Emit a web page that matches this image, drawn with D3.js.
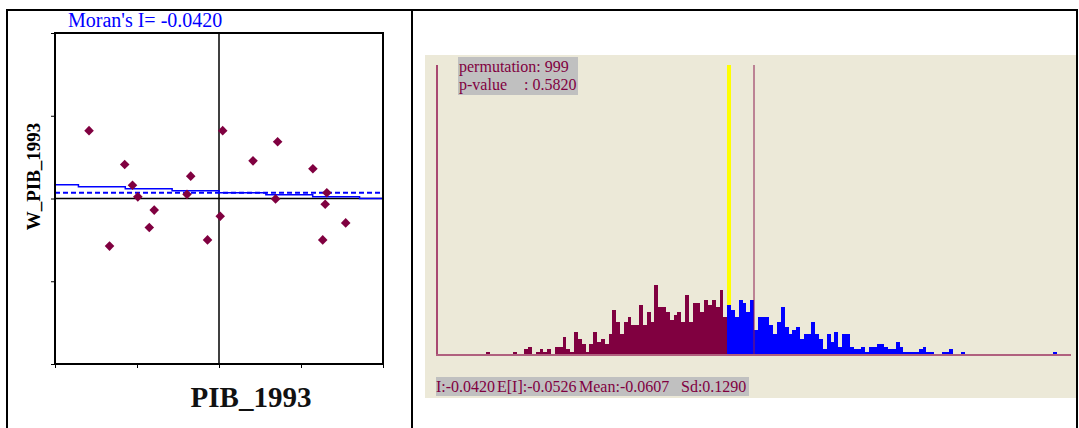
<!DOCTYPE html>
<html>
<head>
<meta charset="utf-8">
<script src="https://cdn.jsdelivr.net/npm/d3@7"></script>
<style>
body { margin: 0; background: #fff; }
svg { display: block; }
</style>
</head>
<body>
<script>
// moran scatter: standardized PIB_1993 vs its spatial lag
const pibValues  = [-3.17, -2.30, -2.11, -1.98, -1.58, -1.70, -2.67, -0.69, -0.78, -0.28,
                     0.09,  0.03,  0.83,  1.43,  1.38,  2.29,  2.63,  2.59,  2.53,  3.09]
const lagValues  = [ 1.64,  0.82,  0.32,  0.04, -0.28, -0.70, -1.15,  0.54,  0.10, -1.00,
                     1.64, -0.43,  0.91,  1.37, -0.01,  0.72,  0.14, -0.14, -1.00, -0.59]
const moranI = -0.0420
const fitIntercept = 0.165
const lagMean = 0.14
const axisTicks = [-4, -2, 0, 2, 4]

// reference distribution, 999 permutations
const binWidth = 0.006041
const firstBinStart = -0.4228
const binCounts = [
  1, 0, 0, 0, 0, 0, 0, 1, 0, 0, 2, 3, 0, 1, 2, 1, 2, 0, 3, 3,
  7, 2, 1, 9, 6, 4, 1, 4, 9, 5, 6, 4, 8, 18, 13, 8, 13, 15, 12, 12,
  20, 12, 17, 13, 28, 19, 19, 17, 14, 16, 17, 13, 24, 13, 21, 21, 17, 22, 20, 22,
  19, 26, 15, 20, 18, 15, 22, 21, 17, 22, 10, 15, 15, 15, 12, 8, 13, 19, 11, 8,
  10, 11, 6, 8, 8, 13, 8, 6, 2, 8, 5, 9, 3, 8, 8, 3, 2, 2, 3, 1,
  3, 3, 4, 4, 3, 2, 2, 5, 3, 1, 1, 1, 1, 2, 3, 1, 1, 0, 0, 1,
  1, 2, 0, 0, 1, 0, 0, 0, 0, 0, 0, 0, 0, 0, 0, 0, 0, 0, 0, 0,
  0, 0, 0, 0, 0, 0, 0, 0, 1
]
const permInfo = ["permutation: 999", "p-value", ": 0.5820"]
const statLabels = ["I:-0.0420", "E[I]:-0.0526", "Mean:-0.0607", "Sd:0.1290"]

const width = 1079, height = 428
const maroon = "#800040"
const serif = "'Liberation Serif', 'Times New Roman', serif"

const svg = d3.select("body").append("svg")
    .attr("width", width)
    .attr("height", height)

// page frame (table borders)
const frame = svg.append("g").attr("stroke", "#000").attr("stroke-width", 2)
frame.append("line").attr("x1", 6).attr("x2", 1078).attr("y1", 10).attr("y2", 10)
frame.append("line").attr("x1", 7).attr("x2", 7).attr("y1", 9).attr("y2", 428)
frame.append("line").attr("x1", 412).attr("x2", 412).attr("y1", 9).attr("y2", 428)
frame.append("line").attr("x1", 1077).attr("x2", 1077).attr("y1", 9).attr("y2", 428)

// ---------- left : scatter plot ----------
const x = d3.scaleLinear().domain([-4, 4]).range([55, 383])
const y = d3.scaleLinear().domain([-4, 4]).range([364, 33])

const scatter = svg.append("g")

scatter.append("g")
    .attr("transform", "translate(55,0)")
    .call(d3.axisLeft(y).tickValues(axisTicks).tickSize(4).tickFormat(""))
    .call(g => g.select(".domain").remove())
scatter.append("g")
    .attr("transform", "translate(0,364)")
    .call(d3.axisBottom(x).tickValues(axisTicks).tickSize(4).tickFormat(""))
    .call(g => g.select(".domain").remove())

scatter.append("line")
    .attr("x1", x(0)).attr("x2", x(0)).attr("y1", y(4)).attr("y2", y(-4))
    .attr("stroke", "#000").attr("stroke-width", 1.5)
scatter.append("line")
    .attr("x1", x(-4)).attr("x2", x(4)).attr("y1", y(0)).attr("y2", y(0))
    .attr("stroke", "#000").attr("stroke-width", 1.5)

// lag mean, dashed
scatter.append("line")
    .attr("x1", x(-4)).attr("x2", x(4)).attr("y1", y(lagMean)).attr("y2", y(lagMean))
    .attr("stroke", "#0000ff").attr("stroke-width", 2)
    .attr("stroke-dasharray", "5,3")

// regression line, slope = Moran's I (drawn in steps like the original)
const fitPts = d3.range(8).map(k => {
    const v = -4 + k * 8 / 7
    return [v, fitIntercept + moranI * v]
})
scatter.append("path")
    .datum(fitPts)
    .attr("fill", "none")
    .attr("stroke", "#0000ff")
    .attr("stroke-width", 1.5)
    .attr("d", d3.line().x(d => x(d[0])).y(d => y(d[1])).curve(d3.curveStep))

scatter.append("rect")
    .attr("x", 55).attr("y", 33).attr("width", 328).attr("height", 331)
    .attr("fill", "none").attr("stroke", "#000").attr("stroke-width", 2)

const diamond = d3.symbol().type(d3.symbolSquare).size(46)
scatter.selectAll(".pt")
    .data(pibValues)
    .enter()
    .append("path")
    .attr("class", "pt")
    .attr("d", diamond)
    .attr("transform", (d, i) => `translate(${x(d)},${y(lagValues[i])}) rotate(45)`)
    .attr("fill", maroon)

svg.append("text")
    .attr("x", 68).attr("y", 27)
    .attr("font-family", serif).attr("font-size", 20)
    .attr("fill", "#0000ff")
    .text("Moran's I= " + moranI.toFixed(4))

svg.append("text")
    .attr("transform", "translate(40,176.5) rotate(-90)")
    .attr("text-anchor", "middle")
    .attr("font-family", serif).attr("font-size", 19).attr("font-weight", "bold")
    .text("W_PIB_1993")

svg.append("text")
    .attr("x", 251).attr("y", 407)
    .attr("text-anchor", "middle")
    .attr("font-family", serif).attr("font-size", 29).attr("font-weight", "bold")
    .attr("fill", "#111")
    .text("PIB_1993")

// ---------- right : permutation histogram ----------
svg.append("rect")
    .attr("x", 425).attr("y", 55).attr("width", 651).attr("height", 343)
    .attr("fill", "#ece9d8")

const hx = d3.scaleLinear().domain([-0.5, 0.5]).range([437, 1071])
const hy = d3.scaleLinear().domain([0, 118]).range([354, 65])
const px = v => Math.round(hx(v))

const bins = binCounts.map((c, i) => {
    const x0 = firstBinStart + i * binWidth
    return {x0: x0, x1: x0 + binWidth, count: c}
})
const obsBin = bins[Math.floor((moranI - firstBinStart) / binWidth)]

const hist = svg.append("g")

hist.selectAll(".bar")
    .data(bins.filter(b => b.count > 0))
    .enter()
    .append("rect")
    .attr("class", "bar")
    .attr("x", d => px(d.x0))
    .attr("width", d => px(d.x1) - px(d.x0))
    .attr("y", d => Math.round(hy(d.count)))
    .attr("height", d => Math.round(hy(0)) - Math.round(hy(d.count)))
    .attr("fill", d => d.x1 > moranI ? "#0000ff" : maroon)
    .attr("shape-rendering", "crispEdges")

// observed statistic
hist.append("rect")
    .attr("x", px(obsBin.x0))
    .attr("width", px(obsBin.x1) - px(obsBin.x0))
    .attr("y", hy(118))
    .attr("height", Math.round(hy(obsBin.count)) - hy(118))
    .attr("fill", "#ffff00")
    .attr("shape-rendering", "crispEdges")

hist.append("line")
    .attr("x1", hx(0)).attr("x2", hx(0)).attr("y1", hy(118)).attr("y2", hy(0))
    .attr("stroke", "#8c1c50").attr("stroke-width", 1)
hist.append("line")
    .attr("x1", hx(-0.5)).attr("x2", hx(-0.5)).attr("y1", hy(118)).attr("y2", hy(0) + 1)
    .attr("stroke", "#a84870").attr("stroke-width", 2)
hist.append("line")
    .attr("x1", hx(-0.5) - 1).attr("x2", hx(0.5)).attr("y1", hy(0) + 1).attr("y2", hy(0) + 1)
    .attr("stroke", "#b0607e").attr("stroke-width", 2)

// text boxes
svg.append("rect")
    .attr("x", 458).attr("y", 57).attr("width", 120).attr("height", 38)
    .attr("fill", "#c0c0c0")
const info = svg.append("g")
    .attr("font-family", serif).attr("font-size", 16).attr("fill", maroon)
info.append("text").attr("x", 459).attr("y", 72).text(permInfo[0])
info.append("text").attr("x", 459).attr("y", 90).text(permInfo[1])
info.append("text").attr("x", 524).attr("y", 90).text(permInfo[2])

svg.append("rect")
    .attr("x", 436).attr("y", 377).attr("width", 313).attr("height", 19)
    .attr("fill", "#c0c0c0")
svg.append("g")
    .attr("font-family", serif).attr("font-size", 16).attr("fill", maroon)
    .selectAll("text")
    .data(statLabels)
    .enter()
    .append("text")
    .attr("x", (d, i) => [436, 497, 579, 681][i])
    .attr("y", 392)
    .text(d => d)
</script>
</body>
</html>
